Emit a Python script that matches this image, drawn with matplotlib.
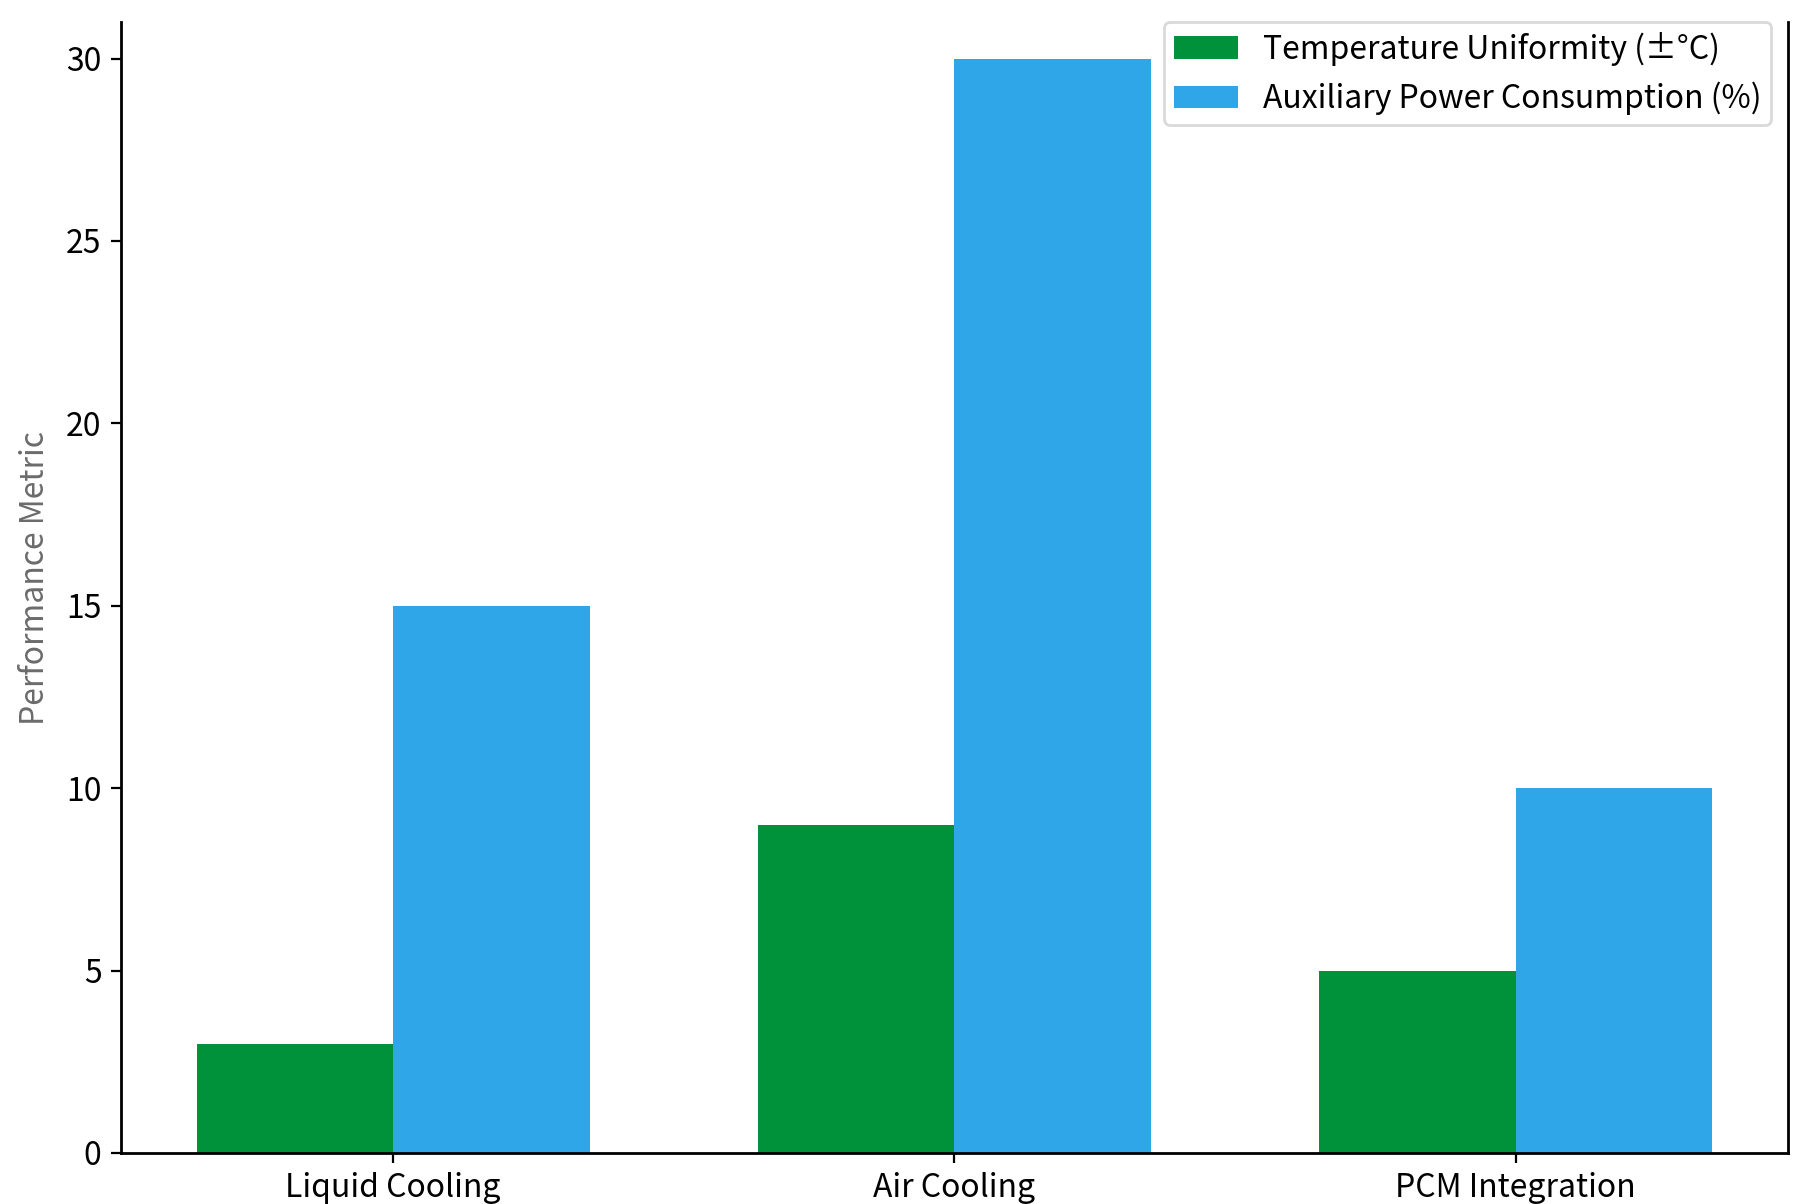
import matplotlib
matplotlib.use("Agg")
import matplotlib.pyplot as plt
import numpy as np

plt.rcParams['font.family'] = ['Noto Sans CJK SC', 'DejaVu Sans']

categories = ["Liquid Cooling", "Air Cooling", "PCM Integration"]
temp_uniformity = [3, 9, 5]
aux_power = [15, 30, 10]
series_labels = ["Temperature Uniformity (±°C)", "Auxiliary Power Consumption (%)"]
yticks = [0, 5, 10, 15, 20, 25, 30]

FS = 11.5
fig = plt.figure(figsize=(9.01, 6.02), dpi=200)
ax = fig.add_axes([0.0671, 0.0424, 0.9251, 0.9393])

x = np.arange(len(categories))
w = 0.35
ax.bar(x - w / 2, temp_uniformity, w, color="#00923A", label=series_labels[0])
ax.bar(x + w / 2, aux_power, w, color="#2EA6E8", label=series_labels[1])

ax.set_xticks(x)
ax.set_xticklabels(categories, fontsize=FS)
ax.set_yticks(yticks)
ax.tick_params(axis='y', labelsize=FS)
ax.set_ylim(0, 31)
ax.set_ylabel("Performance Metric", fontsize=FS, color="#6b6b6b")
ax.yaxis.set_label_coords(-0.042, 0.508)

ax.spines['top'].set_visible(False)
for s in ['left', 'bottom', 'right']:
    ax.spines[s].set_linewidth(1.0)
    ax.spines[s].set_color('black')

leg = ax.legend(loc='upper right', bbox_to_anchor=(0.990, 1.0), borderaxespad=0,
                fontsize=FS, frameon=True, fancybox=True, framealpha=1,
                edgecolor='#d9d9d9', borderpad=0.3)

fig.savefig("out.png", dpi=200)
